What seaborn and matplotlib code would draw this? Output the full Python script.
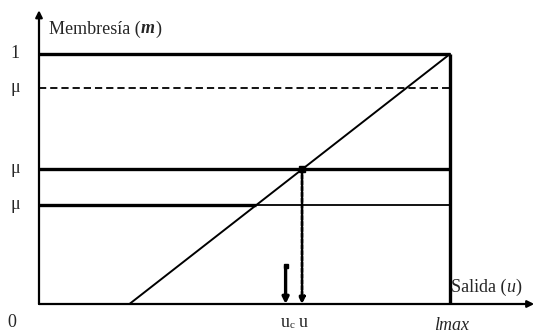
"""Membership function diagram (salida u vs membresía)"""

import matplotlib
matplotlib.use("Agg")
import matplotlib.pyplot as plt
import seaborn as sns
import pandas as pd

# data (x in units of output, lmax = 10; y is membership)
lmax = 10.0
u_start = 2.2          # where the ramp starts
mu_top = 1.0
mu_dash = 0.864
mu_thick = 0.54
mu_thin = 0.396
u_c = 6.0
u_val = 6.4
uc_arrow_top = 0.152

ramp = pd.DataFrame({"u": [u_start, lmax], "mu": [0.0, mu_top]})

y_labels = ["1", "μ", "μ", "μ"]
y_levels = [mu_top, mu_dash, mu_thick, mu_thin]

FS = 13


def chain(ax, x, y, pieces):
    # put text pieces one after another, starting at data point (x, y)
    fig = ax.figure
    r = fig.canvas.get_renderer()
    px, py = ax.transData.transform((x, y))
    for txt, kw in pieces:
        dy = kw.pop("dy", 0)
        t = ax.text(px, py + dy, txt, transform=None, va="center", ha="left",
                    fontsize=kw.pop("fontsize", FS), **kw)
        bb = t.get_window_extent(renderer=r)
        px = bb.x1


def draw(ax):
    # ramp line
    sns.lineplot(data=ramp, x="u", y="mu", ax=ax, color="black", lw=1.4)

    # horizontal levels
    ax.hlines(mu_top, 0, lmax, color="black", lw=2.4)
    ax.hlines(mu_dash, 0, lmax, color="black", lw=1.3, linestyles=(0, (4, 2.2)))
    ax.hlines(mu_thick, 0, lmax, color="black", lw=2.4)
    cut = u_start + mu_thin * (lmax - u_start)
    ax.hlines(mu_thin, 0, cut, color="black", lw=2.4)
    ax.hlines(mu_thin, cut, lmax, color="black", lw=1.3)

    # lmax vertical
    ax.vlines(lmax, 0, mu_top, color="black", lw=2.4)

    # axes with arrows
    ax.annotate("", xy=(12.05, 0), xytext=(0, 0),
                arrowprops=dict(arrowstyle="-|>", color="black", lw=1.6,
                                mutation_scale=10, shrinkA=0, shrinkB=0))
    ax.annotate("", xy=(0, 1.175), xytext=(0, 0),
                arrowprops=dict(arrowstyle="-|>", color="black", lw=1.6,
                                mutation_scale=10, shrinkA=0, shrinkB=0))

    # intersection point and dotted arrow down to u
    ax.plot([u_val], [mu_thick], "s", color="black", ms=4)
    ax.annotate("", xy=(u_val, 0), xytext=(u_val, mu_thick),
                arrowprops=dict(arrowstyle="-|>", color="black", lw=2.0,
                                linestyle=(0, (1.5, 0.6)),
                                mutation_scale=9, shrinkA=0, shrinkB=0))
    # short arrow at u_c
    ax.annotate("", xy=(u_c, 0), xytext=(u_c, uc_arrow_top),
                arrowprops=dict(arrowstyle="-|>", color="black", lw=2.4,
                                mutation_scale=9, shrinkA=0, shrinkB=0))
    ax.plot([u_c], [uc_arrow_top], "s", color="black", ms=3.5)

    # texts
    chain(ax, 0.25, 1.1, [("Membresía (", {}),
                          ("m", {"fontweight": "bold", "fontstyle": "italic"}),
                          (")", {})])
    for lab, lev in zip(y_labels, y_levels):
        ax.text(-0.58, lev, lab, fontsize=FS, va="center", ha="center")
    ax.text(-0.65, -0.075, "0", fontsize=FS, va="center", ha="center")
    chain(ax, 10.02, 0.065, [("Salida (", {}),
                             ("u", {"fontstyle": "italic"}),
                             (")", {})])
    chain(ax, 5.88, -0.075, [("u", {}), ("c", {"fontsize": 8, "dy": -3})])
    ax.text(u_val + 0.02, -0.075, "u", fontsize=FS, va="center", ha="center")
    ax.text(lmax + 0.03, -0.088, "lmax", fontsize=FS, va="center",
            ha="center", fontstyle="italic")


if __name__ == "__main__":
    sns.set_theme(style="white")
    plt.rcParams["font.family"] = ["Liberation Serif", "DejaVu Serif"]

    fig = plt.figure(figsize=(5.34, 3.34), dpi=100)
    ax = fig.add_axes([0, 0, 1, 1])
    ax.set_xlim(-39 / 41.1, 495 / 41.1)
    ax.set_ylim(-30 / 250, 304 / 250)
    ax.axis("off")
    draw(ax)
    ax.set_xlim(-39 / 41.1, 495 / 41.1)
    ax.set_ylim(-30 / 250, 304 / 250)
    ax.set_xlabel("")
    ax.set_ylabel("")

    fig.savefig("out.png", dpi=100)
